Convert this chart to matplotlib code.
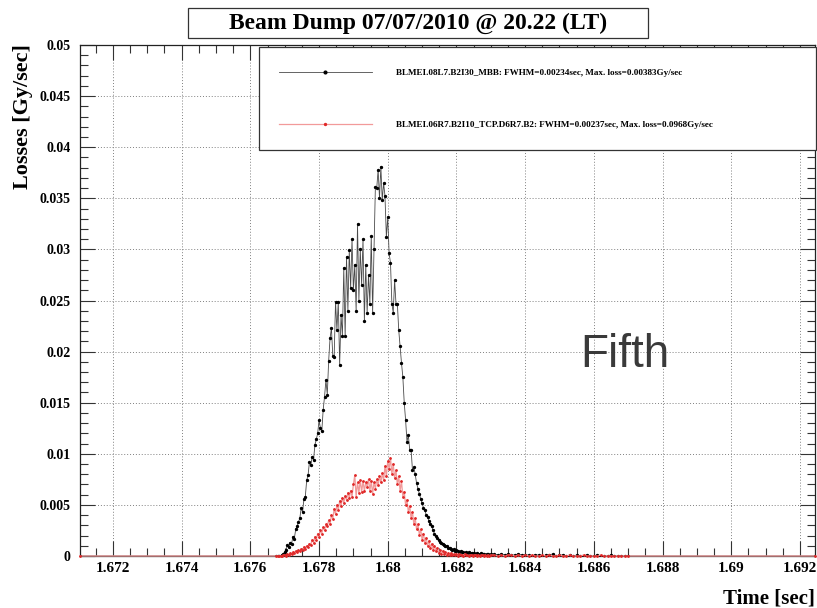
import numpy as np
import matplotlib
matplotlib.use("Agg")
import matplotlib.pyplot as plt
from matplotlib.patches import Rectangle
from matplotlib.ticker import MultipleLocator, FixedLocator

# ---------------- data ----------------
title = "Beam Dump 07/07/2010 @ 20.22 (LT)"
label_black = "BLMEI.08L7.B2I30_MBB: FWHM=0.00234sec, Max. loss=0.00383Gy/sec"
label_red = "BLMEI.06R7.B2I10_TCP.D6R7.B2: FWHM=0.00237sec, Max. loss=0.0968Gy/sec"

x_range = (1.67104, 1.69244)
y_range = (0.0, 0.05)

xtick_values = [1.672, 1.674, 1.676, 1.678, 1.680, 1.682, 1.684, 1.686, 1.688, 1.690, 1.692]
xtick_labels = ["1.672", "1.674", "1.676", "1.678", "1.68", "1.682", "1.684", "1.686", "1.688", "1.69", "1.692"]
ytick_values = [0.0, 0.005, 0.01, 0.015, 0.02, 0.025, 0.03, 0.035, 0.04, 0.045, 0.05]
ytick_labels = ["0", "0.005", "0.01", "0.015", "0.02", "0.025", "0.03", "0.035", "0.04", "0.045", "0.05"]

# sampling grid of the core (peak) region
core_start = 1.67676
core_step = 0.00004

black_core = [
    0, 0, 0, 0, 0.0001, 0.0002, 0.0004, 0.0006, 0.0011, 0.0009,
    0.0013, 0.0012, 0.0019, 0.0017, 0.0026, 0.0029, 0.0033, 0.0037, 0.0047, 0.0043,
    0.0056, 0.0058, 0.0074, 0.0079, 0.0092, 0.0089, 0.0097, 0.0094, 0.0109, 0.0114,
    0.0120, 0.0133, 0.0125, 0.0122, 0.0143, 0.0156, 0.0172, 0.0158, 0.0191, 0.0213,
    0.0223, 0.0196, 0.0195, 0.0249, 0.0221, 0.0249, 0.0187, 0.0236, 0.0215, 0.0282,
    0.0215, 0.0293, 0.0240, 0.0299, 0.0262, 0.0310, 0.0260, 0.0285, 0.0240, 0.0325,
    0.0250, 0.0300, 0.0265, 0.0310, 0.0230, 0.0285, 0.0238, 0.0275, 0.0247, 0.0313,
    0.0238, 0.0300, 0.0361, 0.0360, 0.0378, 0.0350, 0.0381, 0.0348, 0.0365, 0.0352,
    0.0312, 0.0332, 0.0296, 0.0287, 0.0247, 0.0238, 0.0270, 0.0247, 0.0247, 0.0221,
    0.0205, 0.0189, 0.0175, 0.0150, 0.0133, 0.0112, 0.0118, 0.0104, 0.0104, 0.0084,
    0.0087, 0.0080, 0.0071, 0.0066, 0.0061, 0.0056, 0.0052, 0.0047, 0.0045, 0.0040,
    0.0038, 0.0034, 0.0031, 0.0029, 0.0025, 0.0022, 0.0020, 0.0018, 0.0016, 0.0014,
    0.0013, 0.0012, 0.0011, 0.0010, 0.0010, 0.0008, 0.0008, 0.0007, 0.0006, 0.0007,
    0.0005, 0.0006, 0.0005, 0.0004, 0.0005, 0.0004, 0.0004, 0.0003, 0.0004, 0.0003,
    0.0004, 0.0003, 0.0003, 0.0002, 0.0003, 0.0002, 0.0003, 0.0002, 0.0002, 0.0003,
    0.0002, 0.0002, 0.0001, 0.0002, 0.0002, 0.0001, 0.0002,
]

red_core = [
    0, 0, 0, 0, 0, 0.0001, 0.0001, 0.0000, 0.0002, 0.0001,
    0.0003, 0.0002, 0.0004, 0.0003, 0.0005, 0.0004, 0.0006, 0.0005, 0.0007, 0.0006,
    0.0009, 0.0007, 0.0010, 0.0009, 0.0012, 0.0011, 0.0016, 0.0013, 0.0019, 0.0016,
    0.0022, 0.0019, 0.0025, 0.0022, 0.0028, 0.0025, 0.0031, 0.0029, 0.0035, 0.0031,
    0.0040, 0.0036, 0.0046, 0.0041, 0.0050, 0.0045, 0.0054, 0.0049, 0.0057, 0.0052,
    0.0059, 0.0055, 0.0062, 0.0057, 0.0064, 0.0058, 0.0070, 0.0079, 0.0058, 0.0072,
    0.0062, 0.0074, 0.0063, 0.0073, 0.0064, 0.0072, 0.0068, 0.0075, 0.0064, 0.0073,
    0.0061, 0.0072, 0.0066, 0.0075, 0.0069, 0.0078, 0.0072, 0.0081, 0.0074, 0.0088,
    0.0078, 0.0093, 0.0085, 0.0096, 0.0080, 0.0090, 0.0076, 0.0084, 0.0070, 0.0078,
    0.0064, 0.0073, 0.0058, 0.0063, 0.0050, 0.0055, 0.0043, 0.0049, 0.0037, 0.0043,
    0.0031, 0.0037, 0.0026, 0.0031, 0.0021, 0.0026, 0.0016, 0.0022, 0.0013, 0.0018,
    0.0010, 0.0015, 0.0008, 0.0012, 0.0006, 0.0010, 0.0005, 0.0008, 0.0003, 0.0006,
    0.0002, 0.0005, 0.0002, 0.0004, 0.0001, 0.0003, 0.0001, 0.0003, 0.0001, 0.0002,
    0.0001, 0.0002, 0.0000, 0.0002, 0.0001, 0.0001, 0.0000, 0.0002, 0.0001, 0.0001,
    0.0000, 0.0001, 0.0001, 0.0000, 0.0001, 0.0001, 0.0000, 0.0001, 0.0000, 0.0001,
    0.0001, 0.0000, 0.0001, 0.0000, 0.0001, 0.0000, 0.0001,
]

# tail region (coarser sampling)
tail_start = 1.6831
tail_step = 0.0001
black_tail = [
    0.0002, 0.0001, 0.0002, 0.0001, 0.0002, 0.0001, 0.0001, 0.0002, 0.0001, 0.0001,
    0.0001, 0.0000, 0.0001, 0.0001, 0.0000, 0.0001, 0.0001, 0.0002, 0.0000, 0.0001,
    0.0001, 0.0000, 0.0001, 0.0000, 0.0001, 0.0000, 0.0000, 0.0001, 0.0000, 0.0000,
    0.0001, 0.0000, 0.0000, 0.0000, 0.0001, 0.0000, 0.0000, 0.0000, 0.0000, 0.0000,
]
red_tail = [
    0.0001, 0.0000, 0.0001, 0.0000, 0.0001, 0.0001, 0.0000, 0.0001, 0.0000, 0.0001,
    0.0000, 0.0001, 0.0000, 0.0000, 0.0001, 0.0000, 0.0001, 0.0000, 0.0000, 0.0001,
    0.0000, 0.0000, 0.0001, 0.0000, 0.0000, 0.0000, 0.0001, 0.0000, 0.0000, 0.0000,
    0.0000, 0.0001, 0.0000, 0.0000, 0.0000, 0.0000, 0.0000, 0.0000, 0.0000, 0.0000,
]

t_core = core_start + core_step * np.arange(len(black_core))
t_tail = tail_start + tail_step * np.arange(len(black_tail))
t_all = np.concatenate([[x_range[0]], t_core, t_tail, [x_range[1]]])
black_all = np.concatenate([[0.0], black_core, black_tail, [0.0]])
red_all = np.concatenate([[0.0], red_core, red_tail, [0.0]])

# ---------------- figure ----------------
W, H = 817, 608
fig = plt.figure(figsize=(W / 100, H / 100), dpi=100)
ax_l, ax_r, ax_t, ax_b = 80, 815, 45, 556
ax = fig.add_axes([ax_l / W, 1 - ax_b / H, (ax_r - ax_l) / W, (ax_b - ax_t) / H])

serif = "Liberation Serif"

l_black, = ax.plot(t_all, black_all, color="#4a4a4a", lw=0.6, marker="o", ms=1.4,
                   mfc="black", mec="black", zorder=3)
l_red, = ax.plot(t_all, red_all, color="#f29a9a", lw=0.9, marker="o", ms=1.0,
                 mfc="#e02828", mec="#e02828", zorder=4, clip_on=False)

ax.set_xlim(*x_range)
ax.set_ylim(*y_range)

ax.xaxis.set_major_locator(FixedLocator(xtick_values))
ax.yaxis.set_major_locator(FixedLocator(ytick_values))
ax.xaxis.set_minor_locator(MultipleLocator(0.0005))
ax.yaxis.set_minor_locator(MultipleLocator(0.001))
ax.set_xticklabels(xtick_labels, fontfamily=serif, fontweight="bold", fontsize=11)
ax.set_yticklabels(ytick_labels, fontfamily=serif, fontweight="bold", fontsize=10)

ax.tick_params(which="major", direction="in", length=10.5, width=0.8,
               top=True, right=True, color="#333333")
ax.tick_params(which="minor", direction="in", length=5.5, width=0.8,
               top=True, right=True, color="#333333")
ax.tick_params(axis="x", which="major", pad=4)
ax.tick_params(axis="y", which="major", pad=7)

ax.grid(True, which="major", linestyle=(0, (1, 2)), color="#808080", lw=0.7)
ax.set_axisbelow(True)
for s in ax.spines.values():
    s.set_linewidth(0.9)
    s.set_color("#222222")

ax.set_ylabel("Losses [Gy/sec]", fontfamily=serif, fontweight="bold", fontsize=16, loc="top")
ax.yaxis.set_label_coords(-0.064, 1.002)
ax.set_xlabel("Time [sec]", fontfamily=serif, fontweight="bold", fontsize=15, loc="right")
ax.xaxis.set_label_coords(1.0, -0.064)

ax.text(0.742, 0.393, "Fifth", transform=ax.transAxes, fontfamily="Liberation Sans",
        fontsize=33, color="#3a3a3a", ha="center", va="center", zorder=6)

# title box
fig.patches.append(Rectangle((188 / W, 1 - 38 / H), 460 / W, 30 / H, transform=fig.transFigure,
                             facecolor="white", edgecolor="#333333", lw=0.9, zorder=2))
fig.text(418 / W, 1 - 23 / H, title, fontfamily=serif, fontweight="bold", fontsize=17,
         ha="center", va="center", zorder=3)

# legend box
fig.patches.append(Rectangle((259 / W, 1 - 150 / H), (816 - 259) / W, 103 / H,
                             transform=fig.transFigure, facecolor="white",
                             edgecolor="#333333", lw=0.9, zorder=2))
fs_leg = 6.6
leg = fig.legend([l_black, l_red], [label_black, label_red], loc="upper left",
                 bbox_to_anchor=(279 / W, 1 - 69.0 / H), bbox_transform=fig.transFigure,
                 frameon=False, prop={"family": serif, "weight": "bold", "size": fs_leg},
                 handlelength=10.1, handletextpad=2.7, labelspacing=4.75,
                 borderpad=0, borderaxespad=0, numpoints=1, markerscale=1.4)
leg.set_zorder(5)

fig.savefig("out.png", dpi=100)
